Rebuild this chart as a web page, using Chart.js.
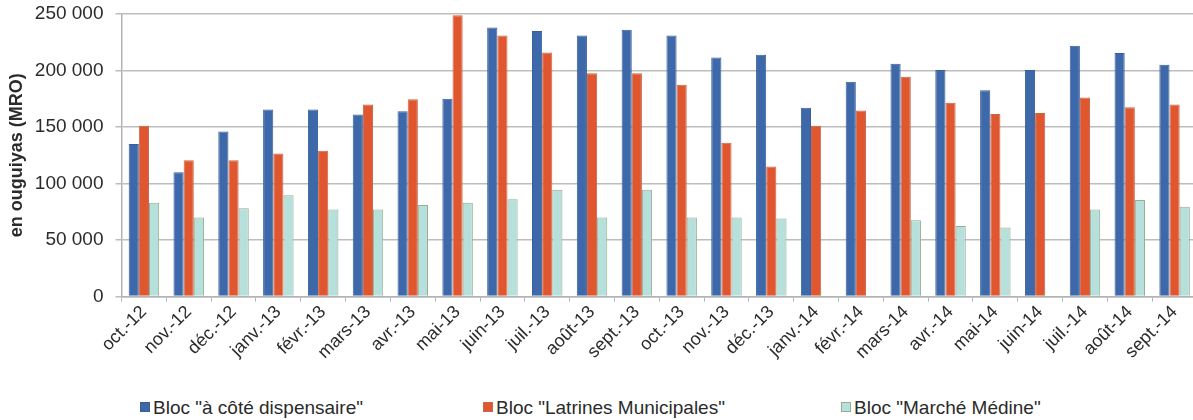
<!DOCTYPE html>
<html>
<head>
<meta charset="utf-8">
<script src="https://cdn.jsdelivr.net/npm/chart.js@4/dist/chart.umd.min.js"></script>
<style>
  html, body { margin: 0; padding: 0; background: #fff; overflow: hidden; }
  #wrap { position: relative; width: 1200px; height: 420px; }
  #chart-box { position: absolute; left: 0; top: 0; width: 1200px; height: 385px; }
  .legend-item { position: absolute; top: 397px; font: 19px "Liberation Sans", Arial, sans-serif; color: #2b2b2b; white-space: nowrap; }
  .legend-item i { display: inline-block; width: 8px; height: 8px; margin-right: 3px; border: 1px solid; vertical-align: 2px; }
</style>
</head>
<body>
<div id="wrap">
  <div id="chart-box"><canvas id="chart"></canvas></div>
  <div id="legend"></div>
</div>
<script>
const months = ['oct.-12', 'nov.-12', 'déc.-12', 'janv.-13', 'févr.-13', 'mars-13', 'avr.-13', 'mai-13',
  'juin-13', 'juil.-13', 'août-13', 'sept.-13', 'oct.-13', 'nov.-13', 'déc.-13', 'janv.-14',
  'févr.-14', 'mars-14', 'avr.-14', 'mai-14', 'juin-14', 'juil.-14', 'août-14', 'sept.-14'];

const dispensaire = [135000, 110000, 146000, 165500, 165500, 161000, 164000, 175000,
  238000, 235000, 231000, 236000, 231000, 211500, 214000, 167000,
  190000, 206000, 200500, 182500, 200500, 222000, 215500, 205000];

const latrines = [151000, 120500, 120500, 126500, 129000, 170000, 174500, 249000,
  231000, 216000, 197500, 197500, 187500, 136000, 115000, 151000,
  164500, 194500, 171500, 161500, 162500, 176000, 167500, 170000];

const medine = [83000, 70000, 78000, 89500, 77000, 77000, 81000, 83000,
  86000, 94500, 70000, 94500, 70000, 70000, 69000, null,
  null, 67500, 62500, 61000, null, 77000, 85500, 79500];

const seriesNames = ['Bloc "à côté dispensaire"', 'Bloc "Latrines Municipales"', 'Bloc "Marché Médine"'];
const yTicks = [0, 50000, 100000, 150000, 200000, 250000];

const fills = ['#3d69ab', '#e0572f', '#b6e0dc'];
const edges = ['#3a5f95', '#c8674a', '#98ad8c'];

const fmt = (v) => String(v).replace(/\B(?=(\d{3})+(?!\d))/g, ' ');
const font = 'Liberation Sans';

new Chart(document.getElementById('chart'), {
  type: 'bar',
  data: {
    labels: months,
    datasets: [dispensaire, latrines, medine].map((data, i) => ({
      label: seriesNames[i],
      data,
      backgroundColor: fills[i],
      borderColor: edges[i],
      borderWidth: 1,
      categoryPercentage: 0.68,
      barPercentage: 1.0
    }))
  },
  options: {
    responsive: true,
    maintainAspectRatio: false,
    animation: false,
    layout: { padding: { top: 14, right: 3, left: 0, bottom: 0 } },
    plugins: { legend: { display: false }, tooltip: { enabled: false } },
    scales: {
      x: {
        grid: { display: true, drawOnChartArea: false, offset: true, color: '#b3b3b3', tickLength: 5 },
        border: { color: '#b3b3b3', width: 1.5 },
        ticks: { font: { family: font, size: 18 }, color: '#2b2b2b', minRotation: 45, maxRotation: 45, padding: 0, autoSkip: false },
        afterFit: (scale) => {
          scale.height = 88.5;
          scale.paddingLeft = 0;
          scale.paddingRight = 0;
        }
      },
      y: {
        min: 0,
        max: 250000,
        afterBuildTicks: (scale) => { scale.ticks = yTicks.map((v) => ({ value: v })); },
        grid: { color: '#bdbdbd', lineWidth: 1.5, tickLength: 6 },
        border: { color: '#b3b3b3', width: 1.5 },
        ticks: { font: { family: font, size: 19 }, color: '#2b2b2b', padding: 12, callback: (v) => fmt(v) },
        title: { display: true, text: 'en ouguiyas (MRO)', font: { family: font, size: 18, weight: 'bold' }, color: '#2b2b2b', padding: { top: 6, bottom: 0 } },
        afterFit: (scale) => {
          scale.width = 121.5;
          scale.paddingTop = 0;
          scale.paddingBottom = 0;
        }
      }
    }
  }
});

const legendLeft = [140, 483, 841];
const legend = document.getElementById('legend');
seriesNames.forEach((name, i) => {
  const item = document.createElement('div');
  item.className = 'legend-item';
  item.style.left = legendLeft[i] + 'px';
  const box = document.createElement('i');
  box.style.background = fills[i];
  box.style.borderColor = edges[i];
  item.appendChild(box);
  item.appendChild(document.createTextNode(name));
  legend.appendChild(item);
});
</script>
</body>
</html>
